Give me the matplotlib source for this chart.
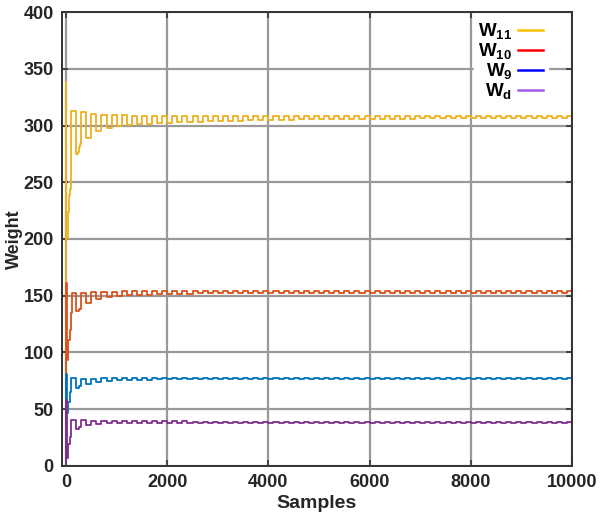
import numpy as np
import matplotlib
matplotlib.use('Agg')
import matplotlib.pyplot as plt
from matplotlib.lines import Line2D

plt.rcParams['font.family'] = ['Liberation Sans', 'DejaVu Sans']
plt.rcParams['font.weight'] = 'bold'
plt.rcParams['mathtext.fontset'] = 'custom'
plt.rcParams['mathtext.rm'] = 'Liberation Sans:bold'
plt.rcParams['mathtext.bf'] = 'Liberation Sans:bold'
plt.rcParams['mathtext.it'] = 'Liberation Sans:bold'

# start-up part of each weight (sample, value)
t_w11 = [0, 3, 8, 25, 40, 60, 80, 95, 100, 180, 200, 230, 260, 280]
v_w11 = [0, 338, 200, 201, 224, 239, 244, 250, 313, 313, 275, 277, 281, 284]
t_w10 = [0, 3, 10, 40, 73, 100, 110, 200, 250]
v_w10 = [0, 161, 93, 111, 120, 135, 152.4, 136.2, 138]
t_w9 = [0, 3, 10, 40, 73, 100, 200, 250]
v_w9 = [0, 81, 47, 56.5, 65.3, 77.6, 68.8, 70.6]
t_wd = [0, 2, 15, 40, 73, 90, 200, 250]
v_wd = [0, 58, 6.6, 19.8, 25.7, 40.3, 33, 34.5]

# after 300 samples: high / low level of each 200-sample cycle
hi_w11 = [311.5, 310, 309.5, 309, 309, 308.8, 308.7, 308.6, 308.5, 308.5,
          308.4, 308.4, 308.4, 308.4, 308.4, 308.4, 308.4, 308.4, 308.4, 308.4,
          308.3, 308.3, 308.3, 308.3, 308.3, 308.3, 308.3, 308.3, 308.3, 308.3,
          308.2, 308.2, 308.2, 308.2, 308.2, 308.2, 308.2, 308.2, 308.2, 308.2,
          308.2, 308.2, 308.2, 308.2, 308.2, 308.2, 308.2, 308.2, 308.2]
lo_w11 = [289, 295, 298, 299.5, 300.5, 301, 301.5, 302, 302.4, 302.8,
          303.1, 303.4, 303.7, 304, 304.2, 304.4, 304.6, 304.8, 305, 305.1,
          305.2, 305.3, 305.4, 305.5, 305.6, 305.7, 305.8, 305.9, 306, 306,
          306.1, 306.1, 306.1, 306.2, 306.2, 306.2, 306.2, 306.2, 306.2, 306.2,
          306.2, 306.2, 306.2, 306.2, 306.2, 306.2, 306.2, 306.2, 306.2]
hi_w10 = [152.5, 153, 153, 153.5, 153.8, 154, 154, 154, 154, 154,
          154, 154, 154, 154, 154, 154, 154, 153.9, 153.9, 153.9,
          153.9, 153.9, 153.9, 153.9, 153.9, 153.9, 153.9, 153.9, 153.9, 153.9,
          153.9, 153.9, 153.9, 153.9, 153.9, 153.9, 153.9, 153.9, 153.9, 153.9,
          153.9, 153.9, 153.9, 153.9, 153.9, 153.9, 153.9, 153.9, 153.9]
lo_w10 = [143.5, 147, 148.8, 150, 150.5, 150.8, 151, 151.3, 151.5, 151.7,
          151.9, 152, 152.1, 152.2, 152.3, 152.4, 152.4, 152.5, 152.5, 152.5,
          152.6, 152.6, 152.6, 152.6, 152.6, 152.6, 152.6, 152.6, 152.6, 152.6,
          152.6, 152.6, 152.6, 152.6, 152.6, 152.6, 152.6, 152.6, 152.6, 152.6,
          152.6, 152.6, 152.6, 152.6, 152.6, 152.6, 152.6, 152.6, 152.6]
hi_w9 = [77, 77, 77.5, 77.6, 77.7, 77.7, 77.7, 77.7, 77.7, 77.7,
         77.7, 77.7, 77.7, 77.7, 77.7, 77.7, 77.7, 77.7, 77.7, 77.7,
         77.7, 77.7, 77.7, 77.7, 77.7, 77.7, 77.7, 77.7, 77.7, 77.7,
         77.7, 77.7, 77.7, 77.7, 77.7, 77.7, 77.7, 77.7, 77.7, 77.7,
         77.7, 77.7, 77.7, 77.7, 77.7, 77.7, 77.7, 77.7, 77.7]
lo_w9 = [72.6, 74.1, 75, 75.5, 75.8, 76, 76.2, 76.3, 76.4, 76.5,
         76.5, 76.6, 76.6, 76.7, 76.7, 76.7, 76.8, 76.8, 76.8, 76.8,
         76.8, 76.8, 76.8, 76.8, 76.8, 76.8, 76.8, 76.8, 76.8, 76.8,
         76.8, 76.8, 76.8, 76.8, 76.8, 76.8, 76.8, 76.8, 76.8, 76.8,
         76.8, 76.8, 76.8, 76.8, 76.8, 76.8, 76.8, 76.8, 76.8]
hi_wd = [40.3, 40, 39.8, 39.6, 39.5, 39.4, 39.3, 39.3, 39.2, 39.2,
         39.2, 39.1, 39.1, 39.1, 39.1, 39.1, 39.1, 39.1, 39.1, 39.1,
         39.1, 39.1, 39.1, 39.1, 39.1, 39.1, 39.1, 39.1, 39.1, 39.1,
         39.1, 39.1, 39.1, 39.1, 39.1, 39.1, 39.1, 39.1, 39.1, 39.1,
         39.1, 39.1, 39.1, 39.1, 39.1, 39.1, 39.1, 39.1, 39.1]
lo_wd = [36, 37.4, 37.8, 38, 38.1, 38.2, 38.2, 38.3, 38.3, 38.3,
         38.3, 38.3, 38.3, 38.3, 38.3, 38.3, 38.3, 38.3, 38.3, 38.3,
         38.3, 38.3, 38.3, 38.3, 38.3, 38.3, 38.3, 38.3, 38.3, 38.3,
         38.3, 38.3, 38.3, 38.3, 38.3, 38.3, 38.3, 38.3, 38.3, 38.3,
         38.3, 38.3, 38.3, 38.3, 38.3, 38.3, 38.3, 38.3, 38.3]

labels = [r'$\mathbf{W_{11}}$', r'$\mathbf{W_{10}}$', r'$\mathbf{W_{9}}$', r'$\mathbf{W_{d}}$']
line_colors = ['#EDB120', '#D95319', '#0072BD', '#7E2F8E']
legend_colors = ['#FFC000', '#FF0000', '#0000FF', '#A45EE5']

knots = np.arange(300, 10001, 100)


def build(t0, v0, hi, lo):
    v = np.empty(2 * len(hi))
    v[0::2] = hi
    v[1::2] = lo
    return np.concatenate([t0, knots]), np.concatenate([v0, v])


series = [build(t_w11, v_w11, hi_w11, lo_w11),
          build(t_w10, v_w10, hi_w10, lo_w10),
          build(t_w9, v_w9, hi_w9, lo_w9),
          build(t_wd, v_wd, hi_wd, lo_wd)]

fig = plt.figure(figsize=(6.06, 5.22), dpi=100)
ax = fig.add_axes([0.1023, 0.1073, 0.8416, 0.8697])

for (t, v), c in zip(series, line_colors):
    ax.plot(t, v, color=c, lw=1.3, drawstyle='steps-post')

ax.set_xlim(-80, 10000)
ax.set_ylim(0, 400)
ax.set_xticks([0, 2000, 4000, 6000, 8000, 10000])
ax.set_yticks(np.arange(0, 401, 50))
ax.set_axisbelow(True)
ax.grid(True, color='#999999', lw=1.6)
ax.tick_params(direction='in', top=True, right=True, length=4, width=1.2,
               colors='#333333', labelsize=13, labelcolor='#262626', pad=6)
for s in ax.spines.values():
    s.set_color('#333333')
    s.set_linewidth(1.4)
for lab in ax.get_xticklabels() + ax.get_yticklabels():
    lab.set_fontweight('bold')

ax.set_xlabel('Samples', fontsize=14, fontweight='bold', color='#262626', labelpad=3)
ax.set_ylabel('Weight', fontsize=13, fontweight='bold', color='#262626')
ax.yaxis.set_label_coords(-0.076, 0.5)

handles = [Line2D([], [], color=c, lw=1.8) for c in legend_colors]
leg = ax.legend(handles, labels, loc='upper right', bbox_to_anchor=(0.953, 0.99),
                markerfirst=False, frameon=True, fancybox=False, fontsize=13.5,
                handlelength=1.35, handletextpad=0.3, labelspacing=0.0,
                borderaxespad=0, borderpad=0.25)
leg.get_frame().set_edgecolor('white')
leg.get_frame().set_facecolor('white')
leg.get_frame().set_alpha(1)

fig.savefig('out.png', dpi=100)
